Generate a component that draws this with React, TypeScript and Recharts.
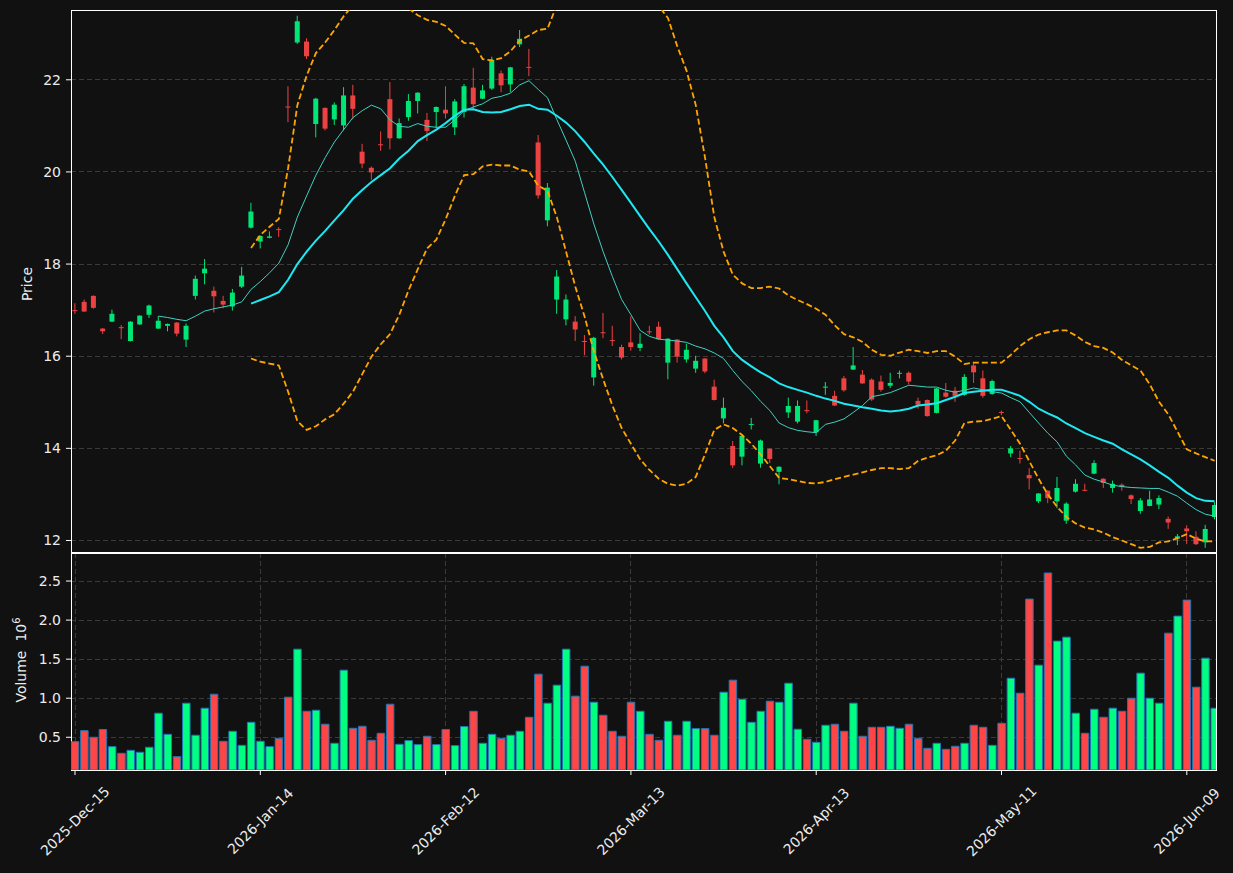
import React from "react";
import {
  ComposedChart,
  Bar,
  Line,
  XAxis,
  YAxis,
  CartesianGrid,
  ReferenceArea,
  Cell,
} from "recharts";

// x axis: trading-day index, labelled every 20 sessions
const TICK_IDX = [0, 20, 40, 60, 80, 100, 120];
const TICK_LABELS = ["2025-Dec-15", "2026-Jan-14", "2026-Feb-12", "2026-Mar-13", "2026-Apr-13", "2026-May-11", "2026-Jun-09"];

const PRICE_TICKS = [12, 14, 16, 18, 20, 22];
const VOL_TICKS = [0.5, 1.0, 1.5, 2.0, 2.5];

const OPEN = [
  17.00, 17.18, 17.31, 16.60, 16.75, 16.63, 16.33, 16.69, 16.90, 16.60,
  16.66, 16.73, 16.36, 17.31, 17.80, 17.42, 17.20, 17.08, 17.51, 18.79,
  18.49, 18.57, 18.76, 21.42, 22.81, 22.83, 21.04, 21.39, 21.14, 21.01,
  21.66, 20.44, 20.09, 20.60, 21.58, 20.73, 21.19, 21.54, 21.13, 21.30,
  21.35, 20.97, 21.30, 21.83, 21.59, 21.81, 22.14, 21.90, 22.77, 22.28,
  20.64, 18.95, 17.23, 16.80, 16.75, 16.33, 15.54, 16.52, 16.35, 16.20,
  16.30, 16.18, 16.54, 16.64, 15.86, 16.36, 15.93, 15.73, 15.95, 15.34,
  14.65, 14.05, 13.82, 14.52, 13.67, 13.99, 13.49, 14.78, 14.58, 14.83,
  14.35, 15.32, 15.14, 15.52, 15.71, 15.60, 15.49, 15.45, 15.36, 15.62,
  15.64, 15.03, 15.05, 14.77, 15.21, 15.25, 15.16, 15.80, 15.52, 15.18,
  14.79, 13.89, 13.79, 13.42, 12.85, 13.08, 12.85, 12.43, 13.06, 13.10,
  13.45, 13.34, 13.14, 13.21, 12.98, 12.64, 12.75, 12.78, 12.47, 12.04,
  12.26, 12.08, 11.96, 12.51,
];
const HIGH = [
  17.15, 17.23, 17.32, 16.61, 17.01, 16.68, 16.76, 16.89, 17.12, 16.87,
  16.71, 16.74, 16.71, 17.75, 18.11, 17.51, 17.31, 17.46, 17.94, 19.33,
  18.62, 18.71, 18.80, 21.86, 23.39, 22.90, 21.61, 21.40, 21.51, 21.84,
  21.89, 20.61, 20.12, 20.88, 21.95, 21.16, 21.69, 21.73, 21.28, 21.42,
  21.86, 21.58, 21.91, 22.26, 21.89, 22.50, 22.20, 22.28, 23.08, 22.67,
  20.80, 19.76, 17.87, 17.34, 16.87, 16.46, 16.42, 16.94, 16.66, 16.25,
  16.86, 16.50, 16.66, 16.75, 16.39, 16.37, 16.27, 16.01, 15.96, 15.49,
  15.10, 14.16, 14.28, 14.66, 14.19, 14.00, 13.61, 15.10, 15.04, 15.04,
  14.62, 15.44, 15.25, 15.57, 16.20, 15.70, 15.52, 15.58, 15.64, 15.69,
  15.67, 15.10, 15.06, 15.31, 15.42, 15.33, 15.61, 15.86, 15.69, 15.49,
  14.82, 14.05, 13.95, 13.57, 13.03, 13.09, 13.38, 12.83, 13.33, 13.23,
  13.74, 13.35, 13.30, 13.24, 13.00, 12.92, 13.08, 12.98, 12.52, 12.14,
  12.33, 12.20, 12.34, 12.83,
];
const LOW = [
  16.92, 16.96, 17.03, 16.48, 16.74, 16.37, 16.32, 16.68, 16.83, 16.59,
  16.54, 16.43, 16.20, 17.23, 17.56, 16.95, 17.04, 16.99, 17.48, 18.77,
  18.34, 18.56, 18.59, 21.08, 22.78, 22.45, 20.75, 20.90, 21.02, 20.90,
  21.14, 20.08, 19.83, 20.46, 20.49, 20.72, 21.11, 21.27, 20.67, 20.95,
  21.16, 20.80, 21.18, 21.35, 21.58, 21.78, 21.73, 21.73, 22.71, 22.08,
  19.42, 18.82, 16.92, 16.67, 16.33, 16.02, 15.36, 16.39, 16.22, 15.93,
  16.12, 16.11, 16.47, 16.36, 15.50, 15.86, 15.86, 15.64, 15.63, 15.04,
  14.54, 13.57, 13.63, 14.41, 13.58, 13.68, 13.22, 14.66, 14.54, 14.76,
  14.27, 15.16, 14.92, 15.23, 15.70, 15.40, 15.03, 15.23, 15.31, 15.52,
  15.39, 14.86, 14.69, 14.76, 15.10, 15.01, 15.14, 15.42, 15.10, 15.16,
  14.72, 13.81, 13.67, 13.11, 12.81, 12.81, 12.70, 12.36, 13.04, 13.08,
  13.44, 13.14, 13.04, 13.08, 12.79, 12.58, 12.74, 12.68, 12.25, 11.90,
  11.92, 11.90, 11.84, 12.46,
];
const CLOSE = [
  16.99, 16.97, 17.05, 16.54, 16.92, 16.61, 16.75, 16.88, 17.10, 16.77,
  16.70, 16.49, 16.66, 17.68, 17.90, 17.30, 17.12, 17.38, 17.75, 19.14,
  18.61, 18.60, 18.74, 21.41, 23.27, 22.51, 21.59, 20.94, 21.46, 21.66,
  21.37, 20.18, 19.99, 20.58, 20.73, 21.06, 21.54, 21.72, 20.89, 21.41,
  21.27, 21.53, 21.86, 21.47, 21.77, 22.43, 21.88, 22.27, 22.89, 22.27,
  19.49, 19.66, 17.73, 17.23, 16.58, 16.32, 16.40, 16.51, 16.34, 15.97,
  16.20, 16.27, 16.53, 16.37, 16.38, 15.99, 16.14, 15.90, 15.67, 15.05,
  14.88, 13.63, 14.27, 14.53, 14.17, 13.77, 13.60, 14.92, 14.92, 14.82,
  14.61, 15.34, 14.93, 15.26, 15.80, 15.41, 15.06, 15.27, 15.42, 15.64,
  15.45, 14.95, 14.70, 15.30, 15.12, 15.14, 15.55, 15.65, 15.14, 15.46,
  14.78, 14.00, 13.78, 13.35, 13.02, 12.92, 13.14, 12.80, 13.23, 13.09,
  13.68, 13.25, 13.23, 13.16, 12.90, 12.87, 12.89, 12.92, 12.39, 12.09,
  12.20, 11.92, 12.25, 12.77,
];
// volume in millions
const VOLUME = [
  0.444, 0.585, 0.50, 0.60, 0.38, 0.295, 0.333, 0.308, 0.372, 0.808,
  0.538, 0.252, 0.936, 0.526, 0.872, 1.051, 0.449, 0.577, 0.397, 0.692,
  0.449, 0.38, 0.487, 1.013, 1.628, 0.833, 0.846, 0.667, 0.423, 1.359,
  0.615, 0.641, 0.462, 0.551, 0.923, 0.410, 0.457, 0.406, 0.513, 0.406,
  0.60, 0.393, 0.637, 0.833, 0.423, 0.538, 0.487, 0.526, 0.577, 0.756,
  1.308, 0.936, 1.167, 1.628, 1.026, 1.410, 0.949, 0.782, 0.577, 0.513,
  0.949, 0.833, 0.538, 0.462, 0.705, 0.526, 0.705, 0.611, 0.611, 0.526,
  1.077, 1.231, 0.987, 0.692, 0.833, 0.962, 0.949, 1.192, 0.603, 0.474,
  0.436, 0.654, 0.667, 0.577, 0.936, 0.513, 0.628, 0.628, 0.641, 0.615,
  0.667, 0.487, 0.359, 0.423, 0.346, 0.385, 0.423, 0.654, 0.628, 0.397,
  0.679, 1.256, 1.064, 2.269, 1.423, 2.603, 1.731, 1.782, 0.808, 0.551,
  0.859, 0.756, 0.872, 0.833, 1.0, 1.321, 1.0, 0.936, 1.833, 2.051,
  2.256, 1.141, 1.513, 0.872,
];
const MA_SHORT = [
  null, null, null, null, null, null, null, null, null, 16.87,
  16.84, 16.80, 16.77, 16.87, 16.98, 17.03, 17.07, 17.11, 17.18, 17.45,
  17.62, 17.81, 18.02, 18.42, 19.02, 19.48, 19.93, 20.31, 20.65, 20.92,
  21.18, 21.33, 21.45, 21.37, 21.13, 20.99, 20.97, 21.05, 20.99, 20.97,
  20.97, 21.13, 21.33, 21.41, 21.48, 21.60, 21.64, 21.71, 21.89, 21.98,
  21.79, 21.61, 21.14, 20.69, 20.23, 19.55, 18.87, 18.27, 17.73, 17.23,
  16.90, 16.56, 16.43, 16.37, 16.35, 16.33, 16.30, 16.22, 16.16, 16.07,
  15.95, 15.69, 15.45, 15.25, 15.02, 14.82, 14.55, 14.45, 14.39, 14.36,
  14.34, 14.52, 14.57, 14.64, 14.78, 14.93, 15.12, 15.16, 15.21, 15.29,
  15.37, 15.35, 15.33, 15.33, 15.26, 15.22, 15.26, 15.31, 15.27, 15.23,
  15.20, 15.10, 15.01, 14.78, 14.55, 14.33, 14.14, 13.83, 13.64, 13.42,
  13.33, 13.27, 13.20, 13.17, 13.15, 13.14, 13.13, 13.13, 13.05, 12.96,
  12.81, 12.67, 12.57, 12.53,
];
const MA_LONG = [
  null, null, null, null, null, null, null, null, null, null,
  null, null, null, null, null, null, null, null, null, 17.14,
  17.22, 17.30, 17.39, 17.66, 18.00, 18.27, 18.51, 18.72, 18.95, 19.17,
  19.42, 19.61, 19.78, 19.93, 20.08, 20.29, 20.46, 20.67, 20.80, 20.92,
  21.06, 21.22, 21.35, 21.36, 21.30, 21.29, 21.30, 21.36, 21.43, 21.46,
  21.37, 21.35, 21.22, 21.07, 20.88, 20.65, 20.40, 20.16, 19.89, 19.61,
  19.33, 19.04, 18.76, 18.49, 18.20, 17.89, 17.58, 17.28, 16.98, 16.66,
  16.41, 16.11, 15.92, 15.78, 15.65, 15.54, 15.41, 15.33, 15.27, 15.21,
  15.14, 15.08, 15.03, 14.97, 14.93, 14.89, 14.86, 14.82, 14.80, 14.82,
  14.86, 14.93, 14.95, 14.98, 15.05, 15.12, 15.20, 15.23, 15.25, 15.27,
  15.27, 15.21, 15.14, 15.01, 14.86, 14.76, 14.67, 14.54, 14.44, 14.33,
  14.25, 14.17, 14.10, 13.98, 13.87, 13.76, 13.63, 13.49, 13.36, 13.19,
  13.04, 12.92, 12.86, 12.85,
];
const BB_UPPER = [
  null, null, null, null, null, null, null, null, null, null,
  null, null, null, null, null, null, null, null, null, 18.35,
  18.63, 18.81, 18.98, 20.08, 21.45, 22.09, 22.58, 22.81, 23.08, 23.38,
  23.62, 23.78, 23.85, 23.80, 23.72, 23.62, 23.55, 23.40, 23.30, 23.26,
  23.17, 22.98, 22.80, 22.79, 22.45, 22.42, 22.47, 22.62, 22.85, 22.96,
  23.08, 23.11, 23.62, 23.95, 24.25, 24.50, 24.70, 24.80, 24.75, 24.60,
  24.35, 24.10, 23.85, 23.60, 23.34, 22.73, 22.20, 21.45, 20.31, 19.02,
  18.27, 17.77, 17.58, 17.48, 17.48, 17.51, 17.47, 17.32, 17.22, 17.13,
  17.03, 16.90, 16.67, 16.48, 16.41, 16.31, 16.14, 16.03, 16.01, 16.08,
  16.14, 16.11, 16.07, 16.11, 16.11, 15.99, 15.83, 15.86, 15.86, 15.86,
  15.86, 16.03, 16.22, 16.37, 16.47, 16.52, 16.56, 16.56, 16.45, 16.31,
  16.22, 16.18, 16.08, 15.92, 15.80, 15.69, 15.39, 15.01, 14.74, 14.36,
  13.98, 13.89, 13.81, 13.73,
];
const BB_LOWER = [
  null, null, null, null, null, null, null, null, null, null,
  null, null, null, null, null, null, null, null, null, 15.95,
  15.88, 15.84, 15.80, 15.23, 14.59, 14.40, 14.48, 14.63, 14.74, 14.97,
  15.23, 15.61, 15.99, 16.26, 16.48, 16.90, 17.43, 17.89, 18.34, 18.53,
  18.97, 19.48, 19.93, 19.95, 20.12, 20.16, 20.14, 20.14, 20.05, 20.01,
  19.70, 19.59, 19.02, 18.27, 17.51, 16.86, 16.11, 15.50, 14.93, 14.44,
  14.10, 13.76, 13.53, 13.34, 13.23, 13.19, 13.23, 13.38, 13.87, 14.40,
  14.52, 14.44, 14.29, 14.10, 13.87, 13.61, 13.36, 13.33, 13.29, 13.25,
  13.24, 13.27, 13.33, 13.38, 13.43, 13.48, 13.53, 13.57, 13.57, 13.55,
  13.57, 13.73, 13.80, 13.85, 13.95, 14.17, 14.55, 14.58, 14.59, 14.64,
  14.70, 14.40, 14.10, 13.72, 13.34, 13.00, 12.73, 12.51, 12.37, 12.28,
  12.24, 12.17, 12.07, 12.00, 11.92, 11.84, 11.86, 11.96, 11.98, 12.05,
  12.14, 12.04, 11.98, 11.98,
];

const X_DOMAIN = [-0.432, 123.15];
const PRICE_DOMAIN = [11.75, 23.515];
const VOL_DOMAIN = [0.081, 2.859];

const BG = "#111111";
const GRID = "#3a3a3a";
const SPINE = "#ffffff";
const TEXT = "#ececec";
const UP = "#00e676";
const DOWN = "#ec4242";
const VOL_UP = "#00ff80";
const VOL_DOWN = "#ff4545";
const VOL_EDGE = "#1f77b4";
const MA_SHORT_COLOR = "#40d0c0";
const MA_LONG_COLOR = "#1ee8f2";
const BAND = "#ffa500";
const FONT = "DejaVu Sans";

const data = OPEN.map((o, i) => ({
  i,
  open: o,
  high: HIGH[i],
  low: LOW[i],
  close: CLOSE[i],
  volume: VOLUME[i],
  maShort: MA_SHORT[i],
  maLong: MA_LONG[i],
  bbUp: BB_UPPER[i],
  bbLo: BB_LOWER[i],
}));

// bar spans low..high; body placed inside it proportionally
const Candle = (props: any) => {
  const { x, y, width, height, payload } = props;
  if (!payload || height == null) return null;
  const { open, close, high, low } = payload;
  const color = close >= open ? UP : DOWN;
  const span = high - low || 1;
  const yOf = (v: number) => y + ((high - v) / span) * height;
  const cx = x + width / 2;
  const top = yOf(Math.max(open, close));
  const bot = yOf(Math.min(open, close));
  return (
    <g>
      <line x1={cx} x2={cx} y1={y} y2={y + height} stroke={color} strokeWidth={1} />
      <rect x={x} y={top} width={width} height={Math.max(bot - top, 1)} fill={color} />
    </g>
  );
};

const DateTick = (props: any) => {
  const { x, y, payload } = props;
  const k = TICK_IDX.indexOf(payload.value);
  const cy = y + 46;
  return (
    <text
      x={x}
      y={cy}
      textAnchor="middle"
      dominantBaseline="central"
      transform={`rotate(-45 ${x} ${cy})`}
      fill={TEXT}
      fontSize={14}
      fontFamily={FONT}
    >
      {k >= 0 ? TICK_LABELS[k] : ""}
    </text>
  );
};

const yTick = { fill: TEXT, fontSize: 14, fontFamily: FONT };

export default function App() {
  return (
    <div style={{ position: "fixed", left: 0, top: 0, width: 1233, height: 873, background: BG, fontFamily: FONT }}>
      <div style={{ position: "absolute", left: 0, top: 0 }}>
        <ComposedChart width={1233} height={553} data={data} margin={{ top: 10, right: 17, bottom: 1, left: 21 }}>
          <CartesianGrid stroke={GRID} strokeDasharray="5 3" shapeRendering="crispEdges" />
          <XAxis
            dataKey="i"
            type="number"
            domain={X_DOMAIN}
            ticks={TICK_IDX}
            allowDataOverflow
            tick={false}
            tickLine={false}
            axisLine={false}
            height={0}
          />
          <YAxis
            type="number"
            domain={PRICE_DOMAIN}
            ticks={PRICE_TICKS}
            interval={0}
            allowDataOverflow
            width={50}
            axisLine={false}
            tickLine={{ stroke: SPINE }}
            tickSize={5}
            tickMargin={5}
            tick={yTick}
          />
          <Bar dataKey={(d: any) => [d.low, d.high]} barSize={5} shape={Candle} isAnimationActive={false} />
          <Line type="linear" dataKey="bbUp" stroke={BAND} strokeWidth={1.8} strokeDasharray="6 3" dot={false} activeDot={false} isAnimationActive={false} />
          <Line type="linear" dataKey="bbLo" stroke={BAND} strokeWidth={1.8} strokeDasharray="6 3" dot={false} activeDot={false} isAnimationActive={false} />
          <Line type="linear" dataKey="maShort" stroke={MA_SHORT_COLOR} strokeWidth={1} dot={false} activeDot={false} isAnimationActive={false} />
          <Line type="linear" dataKey="maLong" stroke={MA_LONG_COLOR} strokeWidth={2} dot={false} activeDot={false} isAnimationActive={false} />
          <ReferenceArea x1={X_DOMAIN[0]} x2={X_DOMAIN[1]} y1={PRICE_DOMAIN[0]} y2={PRICE_DOMAIN[1]} fill="none" stroke={SPINE} strokeWidth={1} shapeRendering="crispEdges" ifOverflow="visible" />
        </ComposedChart>
      </div>

      <div style={{ position: "absolute", left: 0, top: 553 }}>
        <ComposedChart width={1233} height={320} data={data} margin={{ top: 0, right: 17, bottom: 0, left: 21 }}>
          <CartesianGrid stroke={GRID} strokeDasharray="5 3" shapeRendering="crispEdges" />
          <XAxis
            dataKey="i"
            type="number"
            domain={X_DOMAIN}
            ticks={TICK_IDX}
            interval={0}
            allowDataOverflow
            height={103}
            axisLine={false}
            tickLine={{ stroke: SPINE }}
            tickSize={5}
            tickMargin={0}
            tick={(p: any) => <DateTick {...p} />}
          />
          <YAxis
            type="number"
            domain={VOL_DOMAIN}
            ticks={VOL_TICKS}
            interval={0}
            allowDataOverflow
            width={50}
            axisLine={false}
            tickLine={{ stroke: SPINE }}
            tickSize={5}
            tickMargin={5}
            tick={yTick}
            tickFormatter={(v: number) => v.toFixed(1)}
          />
          <Bar dataKey="volume" barSize={7.5} stroke={VOL_EDGE} strokeWidth={1} isAnimationActive={false}>
            {data.map((d) => (
              <Cell key={`v-${d.i}`} fill={d.close >= d.open ? VOL_UP : VOL_DOWN} />
            ))}
          </Bar>
          <ReferenceArea x1={X_DOMAIN[0]} x2={X_DOMAIN[1]} y1={VOL_DOMAIN[0]} y2={VOL_DOMAIN[1]} fill="none" stroke={SPINE} strokeWidth={1} shapeRendering="crispEdges" ifOverflow="visible" />
        </ComposedChart>
      </div>

      <div
        style={{
          position: "absolute",
          left: 27,
          top: 284,
          transform: "translate(-50%, -50%) rotate(-90deg)",
          color: TEXT,
          fontSize: 14,
          whiteSpace: "nowrap",
        }}
      >
        Price
      </div>
      <div
        style={{
          position: "absolute",
          left: 20,
          top: 660,
          transform: "translate(-50%, -50%) rotate(-90deg)",
          color: TEXT,
          fontSize: 14,
          whiteSpace: "nowrap",
        }}
      >
        Volume&nbsp;&nbsp;10<sup style={{ fontSize: 10 }}>6</sup>
      </div>
    </div>
  );
}
